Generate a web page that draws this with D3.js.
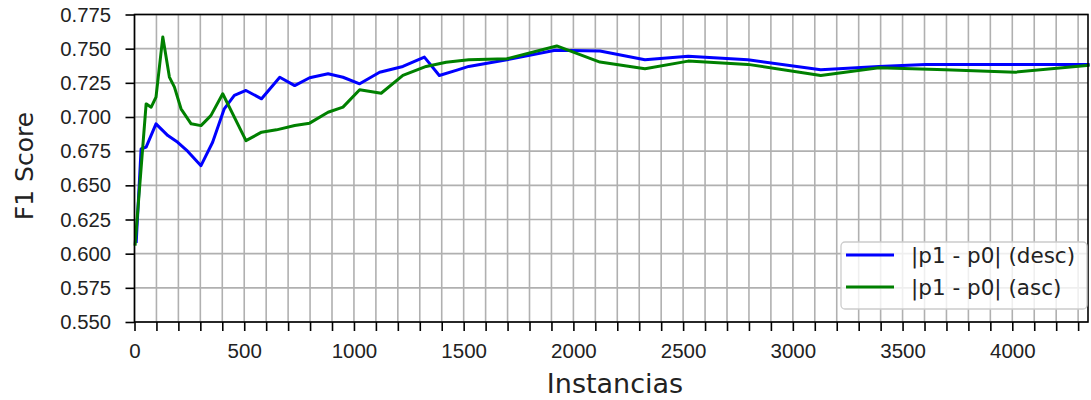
<!DOCTYPE html>
<html>
<head>
<meta charset="utf-8">
<script src="https://cdn.jsdelivr.net/npm/d3@7"></script>
<style>
  html, body { margin: 0; padding: 0; background: #fff; }
  svg { display: block; font-family: "DejaVu Sans", sans-serif; }
</style>
</head>
<body>
<svg id="chart" width="1091" height="400"></svg>
<script>
// F1 score as instances are added, for two orderings of |p1 - p0|
const descX = [8, 30, 53, 98, 152, 197, 242, 303, 356, 409, 455, 508, 579, 662, 730, 798, 882, 950, 1026, 1117, 1223, 1321, 1389, 1473, 1523, 1697, 1917, 2121, 2326, 2523, 2795, 3127, 3392, 3605, 3908, 4345];
const descY = [0.609, 0.6766, 0.678, 0.695, 0.6864, 0.6815, 0.675, 0.6644, 0.6815, 0.706, 0.7158, 0.7194, 0.7133, 0.7291, 0.723, 0.7287, 0.7316, 0.7291, 0.7243, 0.7328, 0.737, 0.7438, 0.7304, 0.7345, 0.737, 0.7419, 0.7488, 0.7483, 0.7419, 0.7444, 0.7419, 0.7346, 0.737, 0.7385, 0.7385, 0.7385];

const ascX = [3, 53, 76, 98, 129, 159, 182, 212, 258, 303, 348, 402, 508, 579, 647, 730, 798, 882, 950, 1026, 1124, 1223, 1329, 1420, 1523, 1697, 1924, 2121, 2326, 2523, 2795, 3127, 3392, 3695, 4014, 4345];
const ascY = [0.607, 0.7096, 0.7072, 0.7145, 0.7586, 0.7292, 0.7219, 0.706, 0.695, 0.6937, 0.701, 0.717, 0.6827, 0.6889, 0.6906, 0.6938, 0.6955, 0.7035, 0.7072, 0.7199, 0.7174, 0.7304, 0.737, 0.7401, 0.7419, 0.7426, 0.752, 0.7402, 0.7353, 0.7409, 0.7385, 0.7304, 0.736, 0.7346, 0.7328, 0.7377];

const seriesNames = ["|p1 - p0| (desc)", "|p1 - p0| (asc)"];
const seriesColors = ["#0000ff", "#008000"];

const xMax = 4345;
const xTicks = d3.range(0, 4301, 100);
const xLabelTicks = [0, 500, 1000, 1500, 2000, 2500, 3000, 3500, 4000];
const yTicks = d3.range(0, 10).map(i => +(0.55 + i * 0.025).toFixed(3));

const plotLeft = 134.5, plotRight = 1088, plotTop = 14.5, plotBottom = 322;
const textColor = "#222";

const svg = d3.select("#chart");
const x = d3.scaleLinear().domain([0, xMax]).range([plotLeft, plotRight]);
const y = d3.scaleLinear().domain([0.55, 0.775]).range([plotBottom, plotTop]);

// grid
const grid = svg.append("g");
grid.selectAll(".vg").data(xTicks).join("line")
  .attr("x1", d => x(d)).attr("x2", d => x(d))
  .attr("y1", plotTop).attr("y2", plotBottom)
  .attr("stroke", "#b0b0b0").attr("stroke-width", 1.6);
grid.selectAll(".hg").data(yTicks).join("line")
  .attr("x1", plotLeft).attr("x2", plotRight)
  .attr("y1", d => y(d)).attr("y2", d => y(d))
  .attr("stroke", "#b0b0b0").attr("stroke-width", 1.6);

// lines
const series = [
  { xs: descX, ys: descY },
  { xs: ascX, ys: ascY }
];
const line = d3.line().x(d => x(d[0])).y(d => y(d[1]));
const plot = svg.append("g");
series.forEach((s, i) => {
  plot.append("path")
    .attr("d", line(s.xs.map((v, j) => [v, s.ys[j]])))
    .attr("fill", "none")
    .attr("stroke", seriesColors[i])
    .attr("stroke-width", 3)
    .attr("stroke-linejoin", "round")
    .attr("stroke-linecap", "square");
});

// axes
const xAxis = d3.axisBottom(x).tickValues(xTicks).tickSize(9).tickPadding(12)
  .tickFormat(d => xLabelTicks.includes(d) ? String(d) : "");
const gx = svg.append("g").attr("transform", `translate(0,${plotBottom})`).call(xAxis);
gx.select(".domain").remove();
gx.selectAll("line").attr("stroke", "#000").attr("stroke-width", 1.6);
gx.selectAll("text").attr("font-size", 20.5).attr("fill", textColor);

const yAxis = d3.axisLeft(y).tickValues(yTicks).tickSize(9).tickPadding(14.5)
  .tickFormat(d3.format(".3f"));
const gy = svg.append("g").attr("transform", `translate(${plotLeft},0)`).call(yAxis);
gy.select(".domain").remove();
gy.selectAll("line").attr("stroke", "#000").attr("stroke-width", 1.6);
gy.selectAll("text").attr("font-size", 20.3).attr("fill", textColor);

// frame
svg.append("rect")
  .attr("x", plotLeft).attr("y", plotTop)
  .attr("width", plotRight - plotLeft).attr("height", plotBottom - plotTop)
  .attr("fill", "none").attr("stroke", "#000").attr("stroke-width", 1.6);

// axis titles
svg.append("text")
  .attr("x", 615).attr("y", 392.5)
  .attr("text-anchor", "middle").attr("font-size", 27).attr("fill", textColor)
  .text("Instancias");
svg.append("text")
  .attr("transform", "translate(33,166) rotate(-90)")
  .attr("text-anchor", "middle").attr("font-size", 25).attr("fill", textColor)
  .text("F1 Score");

// legend
const lg = svg.append("g").attr("transform", "translate(841,242)");
lg.append("rect")
  .attr("width", 246).attr("height", 67).attr("rx", 4)
  .attr("fill", "#fff").attr("fill-opacity", 0.8)
  .attr("stroke", "#ccc").attr("stroke-width", 1.3);
seriesNames.forEach((name, i) => {
  const cy = 13 + i * 32;
  lg.append("line")
    .attr("x1", 5).attr("x2", 53).attr("y1", cy).attr("y2", cy)
    .attr("stroke", seriesColors[i]).attr("stroke-width", 3);
  lg.append("text")
    .attr("x", 70).attr("y", cy).attr("dy", "0.35em")
    .attr("font-size", 21.5).attr("fill", textColor)
    .text(name);
});
</script>
</body>
</html>
